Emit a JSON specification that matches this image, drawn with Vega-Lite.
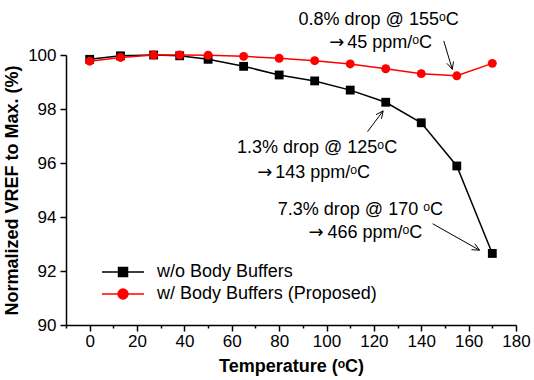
{
  "$schema": "https://vega.github.io/schema/vega-lite/v6.json",
  "width": 450,
  "height": 270,
  "autosize": {"type": "none"},
  "padding": {"left": 66, "top": 55, "right": 18, "bottom": 55},
  "background": "white",
  "config": {
    "font": "Liberation Sans, DejaVu Sans",
    "view": {"stroke": null},
    "axis": {
      "grid": false,
      "domainColor": "black",
      "domainWidth": 1.5,
      "tickColor": "black",
      "tickWidth": 1.5,
      "labelFont": "Liberation Sans, DejaVu Sans",
      "labelFontSize": 17,
      "labelColor": "black",
      "titleFont": "Liberation Sans, DejaVu Sans",
      "titleFontSize": 18,
      "titleFontWeight": "bold",
      "titleColor": "black"
    }
  },
  "resolve": {"axis": {"x": "independent"}},
  "datasets": {
    "series": [
      {"temp": 0, "value": 99.84, "series": "w/o Body Buffers"},
      {"temp": 13, "value": 99.97, "series": "w/o Body Buffers"},
      {"temp": 27, "value": 100.0, "series": "w/o Body Buffers"},
      {"temp": 38, "value": 99.97, "series": "w/o Body Buffers"},
      {"temp": 50, "value": 99.84, "series": "w/o Body Buffers"},
      {"temp": 65, "value": 99.58, "series": "w/o Body Buffers"},
      {"temp": 80, "value": 99.26, "series": "w/o Body Buffers"},
      {"temp": 95, "value": 99.04, "series": "w/o Body Buffers"},
      {"temp": 110, "value": 98.7, "series": "w/o Body Buffers"},
      {"temp": 125, "value": 98.25, "series": "w/o Body Buffers"},
      {"temp": 140, "value": 97.49, "series": "w/o Body Buffers"},
      {"temp": 155, "value": 95.89, "series": "w/o Body Buffers"},
      {"temp": 170, "value": 92.65, "series": "w/o Body Buffers"},
      {"temp": 0, "value": 99.77, "series": "w/ Body Buffers (Proposed)"},
      {"temp": 13, "value": 99.91, "series": "w/ Body Buffers (Proposed)"},
      {"temp": 27, "value": 100.0, "series": "w/ Body Buffers (Proposed)"},
      {"temp": 38, "value": 100.0, "series": "w/ Body Buffers (Proposed)"},
      {"temp": 50, "value": 99.99, "series": "w/ Body Buffers (Proposed)"},
      {"temp": 65, "value": 99.95, "series": "w/ Body Buffers (Proposed)"},
      {"temp": 80, "value": 99.88, "series": "w/ Body Buffers (Proposed)"},
      {"temp": 95, "value": 99.79, "series": "w/ Body Buffers (Proposed)"},
      {"temp": 110, "value": 99.67, "series": "w/ Body Buffers (Proposed)"},
      {"temp": 125, "value": 99.49, "series": "w/ Body Buffers (Proposed)"},
      {"temp": 140, "value": 99.31, "series": "w/ Body Buffers (Proposed)"},
      {"temp": 155, "value": 99.23, "series": "w/ Body Buffers (Proposed)"},
      {"temp": 170, "value": 99.69, "series": "w/ Body Buffers (Proposed)"}
    ],
    "notes": [
      {"x": 122.0, "y": 101.31, "text": "0.8% drop @ 155ᵒC"},
      {"x": 96.0, "y": 96.54, "text": "1.3% drop @ 125ᵒC"},
      {"x": 114.3, "y": 94.26, "text": "7.3% drop @ 170 ᵒC"}
    ],
    "rates": [
      {"x": 108.7, "y": 100.46, "text": "45 ppm/ᵒC"},
      {"x": 78.3, "y": 95.62, "text": "143 ppm/ᵒC"},
      {"x": 100.4, "y": 93.42, "text": "466 ppm/ᵒC"}
    ],
    "rateArrows": [
      {"x": 101.2, "y": 100.46, "text": "→"},
      {"x": 70.8, "y": 95.62, "text": "→"},
      {"x": 92.4, "y": 93.42, "text": "→"}
    ],
    "arrows": [
      {"x": 149.5, "y": 100.52, "x2": 153.1, "y2": 99.47},
      {"x": 153.6, "y": 99.76, "x2": 153.1, "y2": 99.47},
      {"x": 150.85, "y": 99.69, "x2": 153.1, "y2": 99.47},
      {"x": 117.3, "y": 97.16, "x2": 123.9, "y2": 97.93},
      {"x": 120.9, "y": 97.79, "x2": 123.9, "y2": 97.93},
      {"x": 123.2, "y": 97.64, "x2": 123.9, "y2": 97.93},
      {"x": 144.8, "y": 93.75, "x2": 164.6, "y2": 92.77},
      {"x": 162.6, "y": 93.01, "x2": 164.6, "y2": 92.77},
      {"x": 161.2, "y": 92.79, "x2": 164.6, "y2": 92.77}
    ]
  },
  "layer": [
    {
      "data": {"name": "series"},
      "transform": [{"filter": "datum.series === 'w/o Body Buffers'"}],
      "mark": {"type": "line", "strokeWidth": 1.5, "color": "black"},
      "encoding": {
        "x": {
          "field": "temp", "type": "quantitative",
          "scale": {"domain": [-10, 180], "nice": false, "zero": false},
          "axis": {
            "title": "Temperature (ᵒC)",
            "orient": "bottom",
            "values": [0, 20, 40, 60, 80, 100, 120, 140, 160, 180],
            "tickSize": 6,
            "labelPadding": 2,
            "titlePadding": 8,
            "labelFlush": false,
            "labelOverlap": false
          }
        },
        "y": {
          "field": "value", "type": "quantitative",
          "scale": {"domain": [90, 100], "nice": false, "zero": false},
          "axis": {
            "title": "Normalized VREF to Max. (%)",
            "values": [90, 91, 92, 93, 94, 95, 96, 97, 98, 99, 100],
            "labelExpr": "datum.value % 2 === 0 ? datum.label : ''",
            "tickSize": 6,
            "labelPadding": 4,
            "titlePadding": 6,
            "labelFlush": false,
            "labelOverlap": false,
            "encode": {"ticks": {"update": {"x2": {"signal": "datum.value % 2 === 0 ? -6 : -3"}}}}
          }
        }
      }
    },
    {
      "data": {"name": "series"},
      "transform": [{"filter": "datum.series === 'w/ Body Buffers (Proposed)'"}],
      "mark": {"type": "line", "strokeWidth": 1.5, "color": "#ff0000"},
      "encoding": {
        "x": {"field": "temp", "type": "quantitative", "axis": null},
        "y": {"field": "value", "type": "quantitative"}
      }
    },
    {
      "data": {"name": "series"},
      "transform": [{"filter": "datum.series === 'w/o Body Buffers'"}],
      "mark": {"type": "point", "shape": "square", "filled": true, "size": 78, "opacity": 1, "color": "black"},
      "encoding": {
        "x": {"field": "temp", "type": "quantitative", "axis": null},
        "y": {"field": "value", "type": "quantitative"}
      }
    },
    {
      "data": {"name": "series"},
      "transform": [{"filter": "datum.series === 'w/ Body Buffers (Proposed)'"}],
      "mark": {"type": "point", "shape": "circle", "filled": true, "size": 80, "opacity": 1, "color": "#ff0000"},
      "encoding": {
        "x": {"field": "temp", "type": "quantitative", "axis": null},
        "y": {"field": "value", "type": "quantitative"}
      }
    },
    {
      "data": {"name": "series"},
      "transform": [{"filter": "datum.temp < -100"}],
      "mark": {"type": "point", "filled": true, "size": 81, "opacity": 1, "strokeWidth": 1.5},
      "encoding": {
        "x": {
          "field": "temp", "type": "quantitative",
          "axis": {
            "orient": "bottom",
            "values": [-10, 10, 30, 50, 70, 90, 110, 130, 150, 170],
            "tickSize": 3,
            "labels": false,
            "domain": false,
            "title": null
          }
        },
        "y": {"field": "value", "type": "quantitative"},
        "color": {
          "field": "series", "type": "nominal",
          "scale": {"domain": ["w/o Body Buffers", "w/ Body Buffers (Proposed)"], "range": ["black", "#ff0000"]},
          "legend": {
            "title": null,
            "orient": "none",
            "legendX": 48,
            "legendY": 208,
            "padding": 0,
            "rowPadding": 4,
            "labelFontSize": 18,
            "labelColor": "black",
            "labelFont": "Liberation Sans, DejaVu Sans",
            "labelOffset": 25,
            "symbolSize": 81,
            "symbolStrokeWidth": 1.5,
            "labelLimit": 400
          }
        },
        "stroke": {
          "field": "series", "type": "nominal",
          "scale": {"domain": ["w/o Body Buffers", "w/ Body Buffers (Proposed)"], "range": ["black", "#ff0000"]}
        },
        "shape": {
          "field": "series", "type": "nominal",
          "scale": {
            "domain": ["w/o Body Buffers", "w/ Body Buffers (Proposed)"],
            "range": ["M-4.67,0H4.67M-1,-1H1V1H-1Z", "M-4.67,0H4.67M1.1,0A1.1,1.1 0 1 1 -1.1,0A1.1,1.1 0 1 1 1.1,0Z"]
          }
        }
      }
    },
    {
      "data": {"name": "arrows"},
      "mark": {"type": "rule", "color": "black", "strokeWidth": 1},
      "encoding": {
        "x": {"field": "x", "type": "quantitative", "axis": null},
        "y": {"field": "y", "type": "quantitative"},
        "x2": {"field": "x2"},
        "y2": {"field": "y2"}
      }
    },
    {
      "data": {"name": "notes"},
      "mark": {"type": "text", "fontSize": 18, "color": "black", "align": "center", "baseline": "middle", "font": "Liberation Sans, DejaVu Sans"},
      "encoding": {
        "x": {"field": "x", "type": "quantitative", "axis": null},
        "y": {"field": "y", "type": "quantitative"},
        "text": {"field": "text"}
      }
    },
    {
      "data": {"name": "rates"},
      "mark": {"type": "text", "fontSize": 18, "color": "black", "align": "left", "baseline": "middle", "font": "Liberation Sans, DejaVu Sans"},
      "encoding": {
        "x": {"field": "x", "type": "quantitative", "axis": null},
        "y": {"field": "y", "type": "quantitative"},
        "text": {"field": "text"}
      }
    },
    {
      "data": {"name": "rateArrows"},
      "mark": {"type": "text", "fontSize": 18, "color": "black", "align": "left", "baseline": "middle", "font": "DejaVu Sans"},
      "encoding": {
        "x": {"field": "x", "type": "quantitative", "axis": null},
        "y": {"field": "y", "type": "quantitative"},
        "text": {"field": "text"}
      }
    }
  ]
}
